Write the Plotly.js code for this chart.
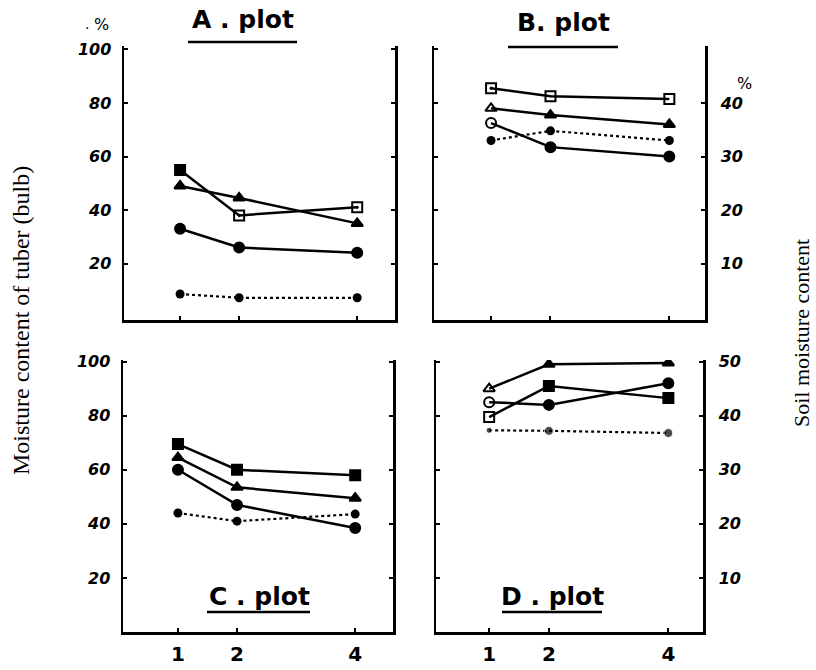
<!DOCTYPE html>
<html>
<head>
<meta charset="utf-8">
<script src="https://cdn.plot.ly/plotly-3.0.1.min.js"></script>
<style>html,body{margin:0;padding:0;background:#fff;} #chart{width:816px;height:670px;}</style>
</head>
<body>
<div id="chart"></div>
<script>
// Days (x categories)
const xVals = [1, 2, 4];
const xTickLabels = ['1', '2', '4'];
const tuberTicks = [20, 40, 60, 80, 100];
const soilTicks = [10, 20, 30, 40, 50];
const soilTicksB = [10, 20, 30, 40];

// Tuber (bulb) moisture content, % (left axis)
const aSquare   = [55, 38, 41];
const aTriangle = [49, 44.5, 35];
const aCircle   = [33, 26, 24];
const bSquare   = [85.5, 82.5, 81.5];
const bTriangle = [78, 75.5, 72];
const bCircle   = [72.5, 63.5, 60];
const cSquare   = [69.5, 60, 58];
const cTriangle = [64.5, 53.5, 49.5];
const cCircle   = [60, 47, 38.5];
const dTriangle = [90, 99, 99.5];
const dSquare   = [79.5, 91, 86.5];
const dCircle   = [85, 84, 92];

// Soil moisture content, % (right axis, dotted)
const aSoil = [4.3, 3.6, 3.6];
const bSoil = [33, 34.8, 33];
const cSoil = [22, 20.5, 21.8];
const dSoil = [37.3, 37.2, 36.8];

const panelTitles = ['A . plot', 'B. plot', 'C . plot', 'D . plot'];
const leftTitle = 'Moisture content of tuber (bulb)';
const rightTitle = 'Soil moisture content';

const W = 816, H = 670;
const px = v => v / W;
const py = v => 1 - v / H;

function solid(x, y, xa, ya, symbols) {
  return {x: x, y: y, xaxis: xa, yaxis: ya, type: 'scatter', mode: 'lines+markers',
    line: {color: '#000', width: 2.5},
    marker: {color: '#000', size: 10, symbol: symbols, line: {color: '#000', width: 2}},
    showlegend: false, hoverinfo: 'skip'};
}
function dotted(x, y, xa, ya, sizes) {
  return {x: x, y: y, xaxis: xa, yaxis: ya, type: 'scatter', mode: 'lines+markers',
    line: {color: '#000', width: 2.2, dash: 'dot'},
    marker: {color: '#000', size: sizes || 9, symbol: 'circle'},
    showlegend: false, hoverinfo: 'skip'};
}

const data = [
  // A
  solid(xVals, aSquare, 'x', 'y', ['square', 'square-open-dot', 'square-open-dot']),
  solid(xVals, aTriangle, 'x', 'y', 'triangle-up'),
  solid(xVals, aCircle, 'x', 'y', 'circle'),
  dotted(xVals, aSoil, 'x', 'y2'),
  // B
  solid(xVals, bSquare, 'x2', 'y3', ['square-open-dot', 'square-open', 'square-open']),
  solid(xVals, bTriangle, 'x2', 'y3', ['triangle-up-open', 'triangle-up', 'triangle-up']),
  solid(xVals, bCircle, 'x2', 'y3', ['circle-open', 'circle', 'circle']),
  dotted(xVals, bSoil, 'x2', 'y4'),
  // C
  solid(xVals, cSquare, 'x3', 'y5', 'square'),
  solid(xVals, cTriangle, 'x3', 'y5', 'triangle-up'),
  solid(xVals, cCircle, 'x3', 'y5', 'circle'),
  dotted(xVals, cSoil, 'x3', 'y6'),
  // D
  solid(xVals, dTriangle, 'x4', 'y7', ['triangle-up-open', 'triangle-up', 'triangle-up']),
  solid(xVals, dSquare, 'x4', 'y7', ['square-open', 'square', 'square']),
  solid(xVals, dCircle, 'x4', 'y7', ['circle-open', 'circle', 'circle']),
  dotted(xVals, dSoil, 'x4', 'y8', [6, 9, 9])
];

const tickFont = {family: 'DejaVu Sans, Liberation Sans, sans-serif', size: 16, color: '#000', weight: 'bold', style: 'italic'};
const xTickFont = {family: 'DejaVu Sans, Liberation Sans, sans-serif', size: 20, color: '#000', weight: 'bold'};

function xAxis(dom, range, anchor, showLabels) {
  return {domain: dom, range: range, anchor: anchor, tickvals: xVals, ticktext: xTickLabels,
    showticklabels: showLabels, tickfont: xTickFont, ticks: 'inside', ticklen: 4, tickwidth: 2,
    tickcolor: '#000', showline: true, linecolor: '#000', linewidth: 2.5, showgrid: false,
    zeroline: false, fixedrange: true, ticklabelstandoff: 2};
}
function yLeft(dom, range, anchor, showLabels) {
  return {domain: dom, range: range, anchor: anchor, side: 'left', tickvals: tuberTicks,
    showticklabels: showLabels, tickfont: tickFont, ticks: 'inside', ticklen: 4, tickwidth: 2,
    tickcolor: '#000', showline: true, linecolor: '#000', linewidth: 2.5, showgrid: false,
    zeroline: false, fixedrange: true, ticklabelstandoff: 7};
}
function yRight(range, overlay, anchor, showLabels, ticks) {
  return {range: range, overlaying: overlay, anchor: anchor, side: 'right', tickvals: ticks || soilTicks,
    showticklabels: showLabels, tickfont: tickFont, ticks: 'inside', ticklen: 4, tickwidth: 2,
    tickcolor: '#000', showline: true, linecolor: '#000', linewidth: 2.5, showgrid: false,
    zeroline: false, fixedrange: true, ticklabelstandoff: 10};
}

const topDom = [py(320), py(46)];
const botDom = [py(632), py(360)];
const topRange = [-1.1, 101.3];
const topRange2 = [topRange[0] / 2, topRange[1] / 2];
const botRange = [0, 100.6];
const botRange2 = [botRange[0] / 2, botRange[1] / 2];

const annFont = {family: 'DejaVu Sans, sans-serif', size: 25, color: '#000', weight: 'bold'};
const serifFont = {family: 'Liberation Serif, Times New Roman, serif', size: 24, color: '#000'};
const serifFontR = {family: 'Liberation Serif, Times New Roman, serif', size: 22, color: '#000'};

function ann(text, x, y, font, extra) {
  return Object.assign({text: text, x: px(x), y: py(y), xref: 'paper', yref: 'paper',
    showarrow: false, font: font, xanchor: 'center', yanchor: 'middle'}, extra || {});
}
function uline(x0, x1, y) {
  return {type: 'line', xref: 'paper', yref: 'paper', x0: px(x0), x1: px(x1), y0: py(y), y1: py(y),
    line: {color: '#000', width: 2.5}};
}

const layout = {
  width: W, height: H,
  margin: {l: 0, r: 0, t: 0, b: 0},
  paper_bgcolor: '#fff', plot_bgcolor: 'rgba(0,0,0,0)',
  showlegend: false,
  xaxis:  xAxis([px(124), px(395)], [0.05, 4.64], 'y', false),
  yaxis:  yLeft(topDom, topRange, 'x', true),
  yaxis2: yRight(topRange2, 'y', 'x', false),
  xaxis2: xAxis([px(434), px(705)], [0.04, 4.6], 'y3', false),
  yaxis3: yLeft(topDom, topRange, 'x2', false),
  yaxis4: yRight(topRange2, 'y3', 'x2', true, soilTicksB),
  xaxis3: xAxis([px(123), px(393)], [0.07, 4.64], 'y5', true),
  yaxis5: yLeft(botDom, botRange, 'x3', true),
  yaxis6: yRight(botRange2, 'y5', 'x3', false),
  xaxis4: xAxis([px(436), px(703)], [0.11, 4.58], 'y7', true),
  yaxis7: yLeft(botDom, botRange, 'x4', false),
  yaxis8: yRight(botRange2, 'y7', 'x4', true),
  annotations: [
    ann(panelTitles[0], 243, 19, annFont),
    ann(panelTitles[1], 563, 23, annFont),
    ann(panelTitles[2], 259, 596, annFont),
    ann(panelTitles[3], 552, 596, annFont),
    ann('%', 101, 24, {family: 'DejaVu Sans, sans-serif', size: 16, color: '#000'}),
    ann('.', 87, 24, {family: 'DejaVu Sans, sans-serif', size: 14, color: '#000'}),
    ann('%', 744, 84, {family: 'DejaVu Sans, sans-serif', size: 16, color: '#000'}),
    ann(leftTitle, 21, 321, serifFont, {textangle: -90}),
    ann(rightTitle, 801, 333, serifFontR, {textangle: -90})
  ],
  shapes: [
    uline(188, 297, 42),
    uline(508, 618, 47),
    uline(207, 310, 612),
    uline(502, 602, 612)
  ]
};

Plotly.newPlot('chart', data, layout, {displayModeBar: false, staticPlot: true});
</script>
</body>
</html>
